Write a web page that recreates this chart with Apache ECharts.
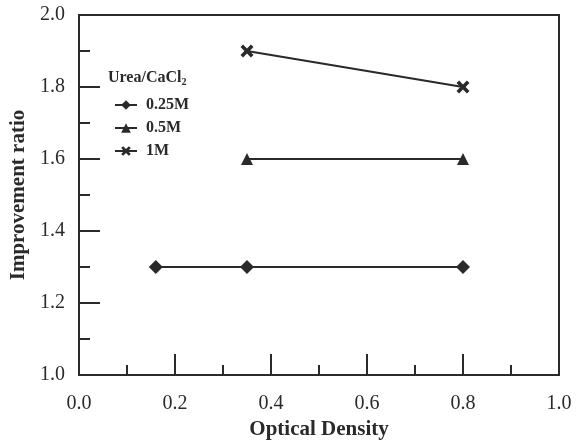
<!DOCTYPE html>
<html>
<head>
<meta charset="utf-8">
<script src="https://cdn.jsdelivr.net/npm/echarts@6/dist/echarts.min.js"></script>
<style>html,body{margin:0;padding:0;background:#fff}#c{width:584px;height:440px}</style>
</head>
<body>
<div id="c"></div>
<script>
const seriesNames = ['0.25M', '0.5M', '1M'];
const x025 = [0.16, 0.35, 0.8];
const y025 = [1.3, 1.3, 1.3];
const x05 = [0.35, 0.8];
const y05 = [1.6, 1.6];
const x1 = [0.35, 0.8];
const y1 = [1.9, 1.8];
const xTicks = [0.0, 0.2, 0.4, 0.6, 0.8, 1.0];
const yTicks = [1.0, 1.2, 1.4, 1.6, 1.8, 2.0];

const pair = (xs, ys) => xs.map((x, i) => [x, ys[i]]);
const crossPath = 'path://M0,2 L2,0 L5,3 L8,0 L10,2 L7,5 L10,8 L8,10 L5,7 L2,10 L0,8 L3,5 Z';
const serif = 'Liberation Serif';
const ink = '#2a2a2a';

const chart = echarts.init(document.getElementById('c'), null, {renderer: 'canvas'});
chart.setOption({
  animation: false,
  backgroundColor: '#fff',
  grid: {left: 79, right: 25, top: 15, bottom: 65, show: true, borderColor: ink, borderWidth: 2,
    containLabel: false, outerBoundsMode: 'none'},
  title: {
    text: 'Urea/CaCl{s|2}',
    left: 103, top: 63,
    textStyle: {fontFamily: serif, fontWeight: 'bold', fontSize: 16, color: ink,
      rich: {s: {fontFamily: serif, fontWeight: 'bold', fontSize: 10, color: ink, verticalAlign: 'bottom', padding: [9, 0, 0, 0]}}}
  },
  legend: {
    orient: 'vertical', left: 109, top: 92,
    itemWidth: 22, itemHeight: 12, itemGap: 7,
    data: seriesNames,
    textStyle: {fontFamily: serif, fontWeight: 'bold', fontSize: 16, color: ink, padding: [0, 0, 0, 4]}
  },
  xAxis: {
    type: 'value', min: 0, max: 1, interval: 0.2,
    name: 'Optical Density', nameLocation: 'middle', nameGap: 38,
    nameTextStyle: {fontFamily: serif, fontWeight: 'bold', fontSize: 21, color: ink},
    axisLine: {show: true, lineStyle: {color: ink, width: 2}},
    axisTick: {show: true, inside: true, length: 21, lineStyle: {color: ink, width: 2}},
    minorTick: {show: true, splitNumber: 2, length: 10, lineStyle: {color: ink, width: 2}},
    splitLine: {show: false},
    axisLabel: {fontFamily: serif, fontSize: 20, color: ink, margin: 19,
      formatter: v => { const t = xTicks.find(k => Math.abs(k - v) < 1e-9); return t === undefined ? '' : t.toFixed(1); }}
  },
  yAxis: {
    type: 'value', min: 1.0, max: 2.0, interval: 0.2,
    name: 'Improvement ratio', nameLocation: 'middle', nameGap: 47,
    nameTextStyle: {fontFamily: serif, fontWeight: 'bold', fontSize: 21, color: ink},
    axisLine: {show: true, lineStyle: {color: ink, width: 2}},
    axisTick: {show: true, inside: true, length: 21, lineStyle: {color: ink, width: 2}},
    minorTick: {show: true, splitNumber: 2, length: 11, lineStyle: {color: ink, width: 2}},
    splitLine: {show: false},
    axisLabel: {fontFamily: serif, fontSize: 20, color: ink, margin: 14,
      formatter: v => { const t = yTicks.find(k => Math.abs(k - v) < 1e-9); return t === undefined ? '' : t.toFixed(1); }}
  },
  series: [
    {name: seriesNames[0], type: 'line', data: pair(x025, y025), symbol: 'diamond', symbolSize: 14,
      lineStyle: {color: ink, width: 2}, itemStyle: {color: ink}},
    {name: seriesNames[1], type: 'line', data: pair(x05, y05), symbol: 'triangle', symbolSize: 12,
      lineStyle: {color: ink, width: 2}, itemStyle: {color: ink}},
    {name: seriesNames[2], type: 'line', data: pair(x1, y1), symbol: crossPath, symbolSize: 13,
      lineStyle: {color: ink, width: 2}, itemStyle: {color: ink}}
  ]
});
</script>
</body>
</html>
